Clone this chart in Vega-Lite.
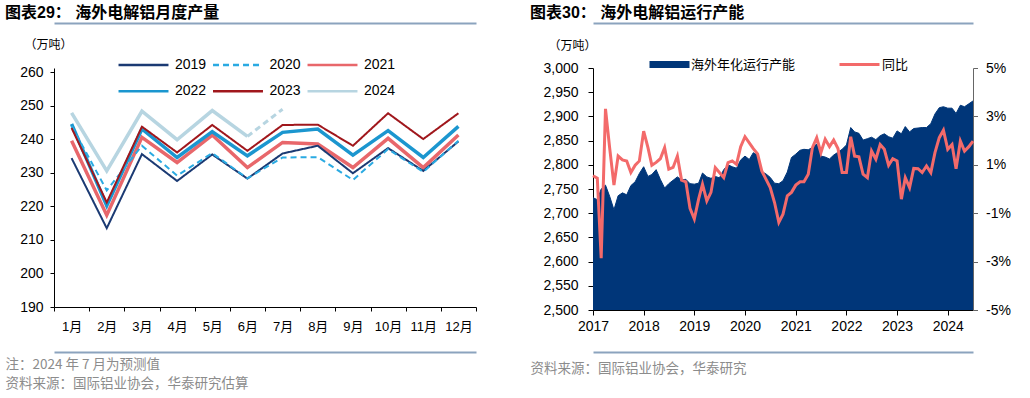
{
  "$schema": "https://vega.github.io/schema/vega-lite/v6.json",
  "autosize": {"type": "pad"},
  "padding": {"left": 5, "top": 5, "right": 5, "bottom": 5},
  "background": "white",
  "spacing": 53,
  "config": {
    "view": {"stroke": null},
    "font": "Liberation Sans, Noto Sans CJK SC, sans-serif",
    "axis": {
      "labelFont": "Liberation Sans, Noto Sans CJK SC, sans-serif",
      "titleFont": "Noto Sans CJK SC, sans-serif",
      "labelColor": "#000",
      "titleColor": "#000",
      "domainColor": "#000",
      "tickColor": "#000",
      "grid": false,
      "labelFontSize": 14,
      "zindex": 1
    },
    "title": {"font": "Liberation Sans, Noto Sans CJK SC, sans-serif", "fontSize": 16, "fontWeight": "bold", "color": "#000", "anchor": "start", "frame": "bounds", "offset": 2}
  },
  "hconcat": [
    {
      "width": 422,
      "height": 239,
      "title": {"text": "图表29： 海外电解铝月度产量"},
      "data": {"values": [
        {"year": "2019", "m": 1, "v": 234.4}, {"year": "2019", "m": 2, "v": 213.5}, {"year": "2019", "m": 3, "v": 235.6}, {"year": "2019", "m": 4, "v": 227.6}, {"year": "2019", "m": 5, "v": 235.5}, {"year": "2019", "m": 6, "v": 228.3}, {"year": "2019", "m": 7, "v": 235.8}, {"year": "2019", "m": 8, "v": 238.1}, {"year": "2019", "m": 9, "v": 229.9}, {"year": "2019", "m": 10, "v": 237.4}, {"year": "2019", "m": 11, "v": 230.6}, {"year": "2019", "m": 12, "v": 239.4},
        {"year": "2020", "m": 1, "v": 244.0}, {"year": "2020", "m": 2, "v": 224.8}, {"year": "2020", "m": 3, "v": 238.1}, {"year": "2020", "m": 4, "v": 229.2}, {"year": "2020", "m": 5, "v": 235.9}, {"year": "2020", "m": 6, "v": 228.4}, {"year": "2020", "m": 7, "v": 234.6}, {"year": "2020", "m": 8, "v": 234.7}, {"year": "2020", "m": 9, "v": 227.9}, {"year": "2020", "m": 10, "v": 237.1}, {"year": "2020", "m": 11, "v": 230.3}, {"year": "2020", "m": 12, "v": 239.6},
        {"year": "2021", "m": 1, "v": 239.6}, {"year": "2021", "m": 2, "v": 217.4}, {"year": "2021", "m": 3, "v": 240.6}, {"year": "2021", "m": 4, "v": 233.1}, {"year": "2021", "m": 5, "v": 241.3}, {"year": "2021", "m": 6, "v": 231.6}, {"year": "2021", "m": 7, "v": 239.1}, {"year": "2021", "m": 8, "v": 238.6}, {"year": "2021", "m": 9, "v": 231.6}, {"year": "2021", "m": 10, "v": 240.3}, {"year": "2021", "m": 11, "v": 231.6}, {"year": "2021", "m": 12, "v": 241.3},
        {"year": "2022", "m": 1, "v": 244.6}, {"year": "2022", "m": 2, "v": 220.2}, {"year": "2022", "m": 3, "v": 243.1}, {"year": "2022", "m": 4, "v": 234.6}, {"year": "2022", "m": 5, "v": 242.3}, {"year": "2022", "m": 6, "v": 235.1}, {"year": "2022", "m": 7, "v": 242.1}, {"year": "2022", "m": 8, "v": 243.1}, {"year": "2022", "m": 9, "v": 235.3}, {"year": "2022", "m": 10, "v": 242.6}, {"year": "2022", "m": 11, "v": 234.6}, {"year": "2022", "m": 12, "v": 243.9},
        {"year": "2023", "m": 1, "v": 243.4}, {"year": "2023", "m": 2, "v": 221.2}, {"year": "2023", "m": 3, "v": 243.8}, {"year": "2023", "m": 4, "v": 236.1}, {"year": "2023", "m": 5, "v": 244.3}, {"year": "2023", "m": 6, "v": 236.6}, {"year": "2023", "m": 7, "v": 244.3}, {"year": "2023", "m": 8, "v": 244.4}, {"year": "2023", "m": 9, "v": 238.1}, {"year": "2023", "m": 10, "v": 247.8}, {"year": "2023", "m": 11, "v": 240.1}, {"year": "2023", "m": 12, "v": 247.8},
        {"year": "2024", "m": 1, "v": 247.9}, {"year": "2024", "m": 2, "v": 230.6}, {"year": "2024", "m": 3, "v": 248.4}, {"year": "2024", "m": 4, "v": 239.9}, {"year": "2024", "m": 5, "v": 248.6}, {"year": "2024", "m": 6, "v": 240.9}, {"year": "2024", "m": 7, "v": 249.0}
      ]},
      "resolve": {"axis": {"x": "independent"}},
      "layer": [
        {
          "transform": [{"filter": "datum.year === '2021' || datum.year === '2022' || (datum.year === '2024' && datum.m <= 6)"}],
          "mark": {"type": "line", "strokeWidth": 3.5},
          "encoding": {
            "x": {
              "field": "m", "type": "ordinal",
              "scale": {"type": "band", "domain": [1, 2, 3, 4, 5, 6, 7, 8, 9, 10, 11, 12], "paddingInner": 0, "paddingOuter": 0},
              "axis": {"orient": "bottom", "title": null, "labelExpr": "isValid(datum.value) ? datum.value + '月' : ''", "labelAngle": 0, "tickBand": "extent", "tickSize": 4, "labelPadding": 9, "labelFontSize": 13}
            },
            "y": {
              "field": "v", "type": "quantitative",
              "scale": {"domain": [190, 261.3], "nice": false, "zero": false},
              "axis": {"orient": "left", "values": [190, 200, 210, 220, 230, 240, 250, 260], "labelOverlap": false, "tickSize": 4, "labelPadding": 7, "title": "（万吨）", "titleAngle": 0, "titleX": -6, "titleY": -24, "titleAlign": "center", "titleBaseline": "middle", "titleFontSize": 12, "titleFontWeight": "normal"}
            },
            "color": {
              "field": "year", "type": "nominal",
              "scale": {"domain": ["2019", "2020", "2021", "2022", "2023", "2024"], "range": ["#1B3A73", "#2AAAE2", "#E8676B", "#1B96CF", "#A0171C", "#B7D5E1"]},
              "legend": {
                "orient": "none", "legendX": 64, "legendY": -10.7, "direction": "horizontal", "columns": 3,
                "title": null, "padding": 0, "offset": 0,
                "symbolType": "M-4,0H4", "symbolSize": 156, "symbolOffset": 18, "symbolStrokeWidth": 2.5,
                "labelOffset": 24, "columnPadding": 0.5, "rowPadding": 11.4,
                "labelFont": "Liberation Sans, sans-serif", "labelFontSize": 14, "labelColor": "#000"
              }
            },
            "strokeWidth": {"condition": {"test": "datum.year === '2024'", "value": 3}, "value": 3.5}
          }
        },
        {
          "transform": [{"filter": "datum.year === '2019' || datum.year === '2020' || datum.year === '2023'"}],
          "mark": {"type": "line", "strokeWidth": 2},
          "encoding": {
            "x": {"field": "m", "type": "ordinal", "axis": {"orient": "top", "offset": 45, "labels": false, "ticks": false, "title": null, "domainColor": "#8BA3BE", "domainWidth": 2}},
            "y": {
              "field": "v", "type": "quantitative",
              "axis": {"orient": "left", "values": [190, 200, 210, 220, 230, 240, 250, 260], "labelOverlap": false, "tickSize": 4, "labelPadding": 7, "title": "（万吨）", "titleAngle": 0, "titleX": -6, "titleY": -24, "titleAlign": "center", "titleBaseline": "middle", "titleFontSize": 12, "titleFontWeight": "normal"}
            },
            "color": {"field": "year", "type": "nominal"},
            "strokeDash": {
              "field": "year", "type": "nominal",
              "scale": {"domain": ["2019", "2020", "2021", "2022", "2023", "2024"], "range": [[1, 0], [6, 4], [1, 0], [1, 0], [1, 0], [1, 0]]},
              "legend": {"orient": "none", "legendX": 64, "legendY": -10.7, "direction": "horizontal", "columns": 3, "title": null}
            }
          }
        },
        {
          "transform": [{"filter": "datum.year === '2024' && datum.m >= 6"}],
          "mark": {"type": "line", "strokeWidth": 3, "strokeDash": [6, 4]},
          "encoding": {
            "x": {"field": "m", "type": "ordinal", "axis": {"orient": "bottom", "offset": 45, "labels": false, "ticks": false, "domainColor": "#8BA3BE", "domainWidth": 2,
              "title": ["注：2024 年 7 月为预测值", "资料来源：国际铝业协会，华泰研究估算"],
              "titleX": -49, "titleY": 5, "titleAlign": "left", "titleBaseline": "top", "titleColor": "#8C8C8C", "titleFontSize": 13.5, "titleFontWeight": "normal", "titleLineHeight": 19}},
            "y": {
              "field": "v", "type": "quantitative",
              "axis": {"orient": "left", "values": [190, 200, 210, 220, 230, 240, 250, 260], "labelOverlap": false, "tickSize": 4, "labelPadding": 7, "title": "（万吨）", "titleAngle": 0, "titleX": -6, "titleY": -24, "titleAlign": "center", "titleBaseline": "middle", "titleFontSize": 12, "titleFontWeight": "normal"}
            },
            "color": {"field": "year", "type": "nominal"}
          }
        }
      ]
    },
    {
      "width": 380,
      "height": 242,
      "title": {"text": "图表30： 海外电解铝运行产能"},
      "data": {"values": [
        {"d": "2017-01", "cap": 2732, "yoy": 0.55}, {"d": "2017-02", "cap": 2728, "yoy": 0.45}, {"d": "2017-03", "cap": 2750, "yoy": -2.86}, {"d": "2017-04", "cap": 2758, "yoy": 3.31}, {"d": "2017-05", "cap": 2735, "yoy": 1.7}, {"d": "2017-06", "cap": 2707, "yoy": 0.16}, {"d": "2017-07", "cap": 2736, "yoy": 1.36}, {"d": "2017-08", "cap": 2742, "yoy": 1.2}, {"d": "2017-09", "cap": 2738, "yoy": 1.16}, {"d": "2017-10", "cap": 2757, "yoy": 0.68}, {"d": "2017-11", "cap": 2765, "yoy": 0.98}, {"d": "2017-12", "cap": 2782, "yoy": 1.16},
        {"d": "2018-01", "cap": 2796, "yoy": 2.39}, {"d": "2018-02", "cap": 2776, "yoy": 1.71}, {"d": "2018-03", "cap": 2780, "yoy": 0.98}, {"d": "2018-04", "cap": 2790, "yoy": 1.1}, {"d": "2018-05", "cap": 2770, "yoy": 1.25}, {"d": "2018-06", "cap": 2752, "yoy": 1.71}, {"d": "2018-07", "cap": 2761, "yoy": 0.82}, {"d": "2018-08", "cap": 2768, "yoy": 0.89}, {"d": "2018-09", "cap": 2775, "yoy": 1.36}, {"d": "2018-10", "cap": 2769, "yoy": 0.37}, {"d": "2018-11", "cap": 2770, "yoy": 0.3}, {"d": "2018-12", "cap": 2761, "yoy": -0.8},
        {"d": "2019-01", "cap": 2760, "yoy": -1.24}, {"d": "2019-02", "cap": 2762, "yoy": -0.42}, {"d": "2019-03", "cap": 2783, "yoy": 0.2}, {"d": "2019-04", "cap": 2775, "yoy": -0.49}, {"d": "2019-05", "cap": 2772, "yoy": -0.14}, {"d": "2019-06", "cap": 2776, "yoy": 0.88}, {"d": "2019-07", "cap": 2773, "yoy": 0.68}, {"d": "2019-08", "cap": 2790, "yoy": 0.47}, {"d": "2019-09", "cap": 2800, "yoy": 1.09}, {"d": "2019-10", "cap": 2796, "yoy": 1.16}, {"d": "2019-11", "cap": 2793, "yoy": 1.02}, {"d": "2019-12", "cap": 2810, "yoy": 1.75},
        {"d": "2020-01", "cap": 2818, "yoy": 2.16}, {"d": "2020-02", "cap": 2811, "yoy": 1.91}, {"d": "2020-03", "cap": 2825, "yoy": 1.67}, {"d": "2020-04", "cap": 2820, "yoy": 1.45}, {"d": "2020-05", "cap": 2786, "yoy": 0.75}, {"d": "2020-06", "cap": 2781, "yoy": 0.4}, {"d": "2020-07", "cap": 2774, "yoy": 0.06}, {"d": "2020-08", "cap": 2762, "yoy": -0.56}, {"d": "2020-09", "cap": 2761, "yoy": -1.38}, {"d": "2020-10", "cap": 2767, "yoy": -1.04}, {"d": "2020-11", "cap": 2785, "yoy": -0.28}, {"d": "2020-12", "cap": 2815, "yoy": -0.14},
        {"d": "2021-01", "cap": 2822, "yoy": 0.16}, {"d": "2021-02", "cap": 2830, "yoy": 0.3}, {"d": "2021-03", "cap": 2832, "yoy": 0.3}, {"d": "2021-04", "cap": 2831, "yoy": 0.61}, {"d": "2021-05", "cap": 2836, "yoy": 1.71}, {"d": "2021-06", "cap": 2843, "yoy": 2.12}, {"d": "2021-07", "cap": 2818, "yoy": 1.5}, {"d": "2021-08", "cap": 2816, "yoy": 2.06}, {"d": "2021-09", "cap": 2812, "yoy": 1.75}, {"d": "2021-10", "cap": 2820, "yoy": 2.02}, {"d": "2021-11", "cap": 2826, "yoy": 1.67}, {"d": "2021-12", "cap": 2832, "yoy": 0.68},
        {"d": "2022-01", "cap": 2841, "yoy": 0.68}, {"d": "2022-02", "cap": 2877, "yoy": 2.16}, {"d": "2022-03", "cap": 2868, "yoy": 1.36}, {"d": "2022-04", "cap": 2865, "yoy": 1.33}, {"d": "2022-05", "cap": 2851, "yoy": 0.61}, {"d": "2022-06", "cap": 2854, "yoy": 0.47}, {"d": "2022-07", "cap": 2857, "yoy": 1.57}, {"d": "2022-08", "cap": 2852, "yoy": 1.23}, {"d": "2022-09", "cap": 2860, "yoy": 1.84}, {"d": "2022-10", "cap": 2864, "yoy": 1.64}, {"d": "2022-11", "cap": 2858, "yoy": 0.98}, {"d": "2022-12", "cap": 2855, "yoy": 1.25},
        {"d": "2023-01", "cap": 2870, "yoy": 1.16}, {"d": "2023-02", "cap": 2864, "yoy": -0.42}, {"d": "2023-03", "cap": 2879, "yoy": 0.47}, {"d": "2023-04", "cap": 2868, "yoy": 0.06}, {"d": "2023-05", "cap": 2875, "yoy": 0.85}, {"d": "2023-06", "cap": 2876, "yoy": 0.84}, {"d": "2023-07", "cap": 2877, "yoy": 0.68}, {"d": "2023-08", "cap": 2877, "yoy": 0.95}, {"d": "2023-09", "cap": 2885, "yoy": 0.68}, {"d": "2023-10", "cap": 2905, "yoy": 1.5}, {"d": "2023-11", "cap": 2918, "yoy": 2.12}, {"d": "2023-12", "cap": 2920, "yoy": 2.43},
        {"d": "2024-01", "cap": 2917, "yoy": 1.64}, {"d": "2024-02", "cap": 2917, "yoy": 1.84}, {"d": "2024-03", "cap": 2906, "yoy": 0.84}, {"d": "2024-04", "cap": 2923, "yoy": 1.98}, {"d": "2024-05", "cap": 2920, "yoy": 1.57}, {"d": "2024-06", "cap": 2926, "yoy": 1.75}, {"d": "2024-07", "cap": 2932, "yoy": 1.98}
      ]},
      "resolve": {"scale": {"y": "independent"}, "axis": {"x": "independent", "y": "independent"}},
      "layer": [
        {
          "mark": {"type": "area"},
          "encoding": {
            "x": {
              "field": "d", "type": "temporal",
              "scale": {"domain": [{"year": 2017, "month": 1, "date": 1, "utc": true}, {"year": 2024, "month": 7, "date": 1, "utc": true}]},
              "axis": {"orient": "bottom", "title": null, "format": "%Y", "tickCount": {"interval": "year", "step": 1}, "labelAngle": 0, "labelFlush": false, "labelOverlap": false, "tickSize": 5, "labelPadding": 4}
            },
            "y": {
              "field": "cap", "type": "quantitative",
              "scale": {"domain": [2500, 3000], "zero": false, "nice": false},
              "axis": {"orient": "left", "values": [2500, 2550, 2600, 2650, 2700, 2750, 2800, 2850, 2900, 2950, 3000], "format": ",.0f", "labelOverlap": false, "tickSize": 5, "labelPadding": 10, "title": "（万吨）", "titleAngle": 0, "titleX": -21, "titleY": -23, "titleAlign": "center", "titleBaseline": "middle", "titleFontSize": 12, "titleFontWeight": "normal"}
            },
            "y2": {"datum": 2500},
            "fill": {
              "datum": "海外年化运行产能",
              "scale": {"domain": ["海外年化运行产能"], "range": ["#003679"]},
              "legend": {
                "orient": "none", "legendX": 594, "legendY": -10, "title": null, "padding": 0, "offset": 0,
                "symbolType": "M-4,-0.7H4V0.7H-4Z", "symbolSize": 100, "symbolOffset": 15, "symbolStrokeWidth": 0,
                "labelOffset": 15, "labelFont": "Noto Sans CJK SC, sans-serif", "labelFontSize": 13, "labelColor": "#000"
              }
            }
          }
        },
        {
          "mark": {"type": "line", "color": "#003679", "strokeWidth": 1},
          "encoding": {
            "x": {"field": "d", "type": "temporal", "axis": {"orient": "bottom", "offset": 42, "labels": false, "ticks": false, "domainColor": "#8BA3BE", "domainWidth": 2,
              "title": "资料来源：国际铝业协会，华泰研究",
              "titleX": -63, "titleY": 9, "titleAlign": "left", "titleBaseline": "top", "titleColor": "#8C8C8C", "titleFontSize": 13.5, "titleFontWeight": "normal"}},
            "y": {"field": "cap", "type": "quantitative", "scale": {"domain": [2500, 3000], "zero": false, "nice": false}, "axis": null}
          }
        },
        {
          "mark": {"type": "line", "strokeWidth": 3},
          "encoding": {
            "x": {"field": "d", "type": "temporal", "axis": {"orient": "top", "offset": 45, "labels": false, "ticks": false, "title": null, "domainColor": "#8BA3BE", "domainWidth": 2}},
            "y": {
              "field": "yoy", "type": "quantitative",
              "scale": {"domain": [-5, 5], "nice": false, "zero": false},
              "axis": {"orient": "right", "values": [-5, -3, -1, 1, 3, 5], "labelExpr": "datum.value + '%'", "labelOverlap": false, "title": null, "tickSize": 4.5, "labelPadding": 8, "domainColor": "#666", "tickColor": "#666"}
            },
            "stroke": {
              "datum": "同比",
              "scale": {"domain": ["同比"], "range": ["#F36A6A"]},
              "legend": {
                "orient": "none", "legendX": 784, "legendY": -10, "title": null, "padding": 0, "offset": 0,
                "symbolType": "M-4,0H4", "symbolSize": 100, "symbolOffset": 15, "symbolStrokeWidth": 3,
                "labelOffset": 16, "labelFont": "Noto Sans CJK SC, sans-serif", "labelFontSize": 13, "labelColor": "#000"
              }
            }
          }
        }
      ]
    }
  ]
}
